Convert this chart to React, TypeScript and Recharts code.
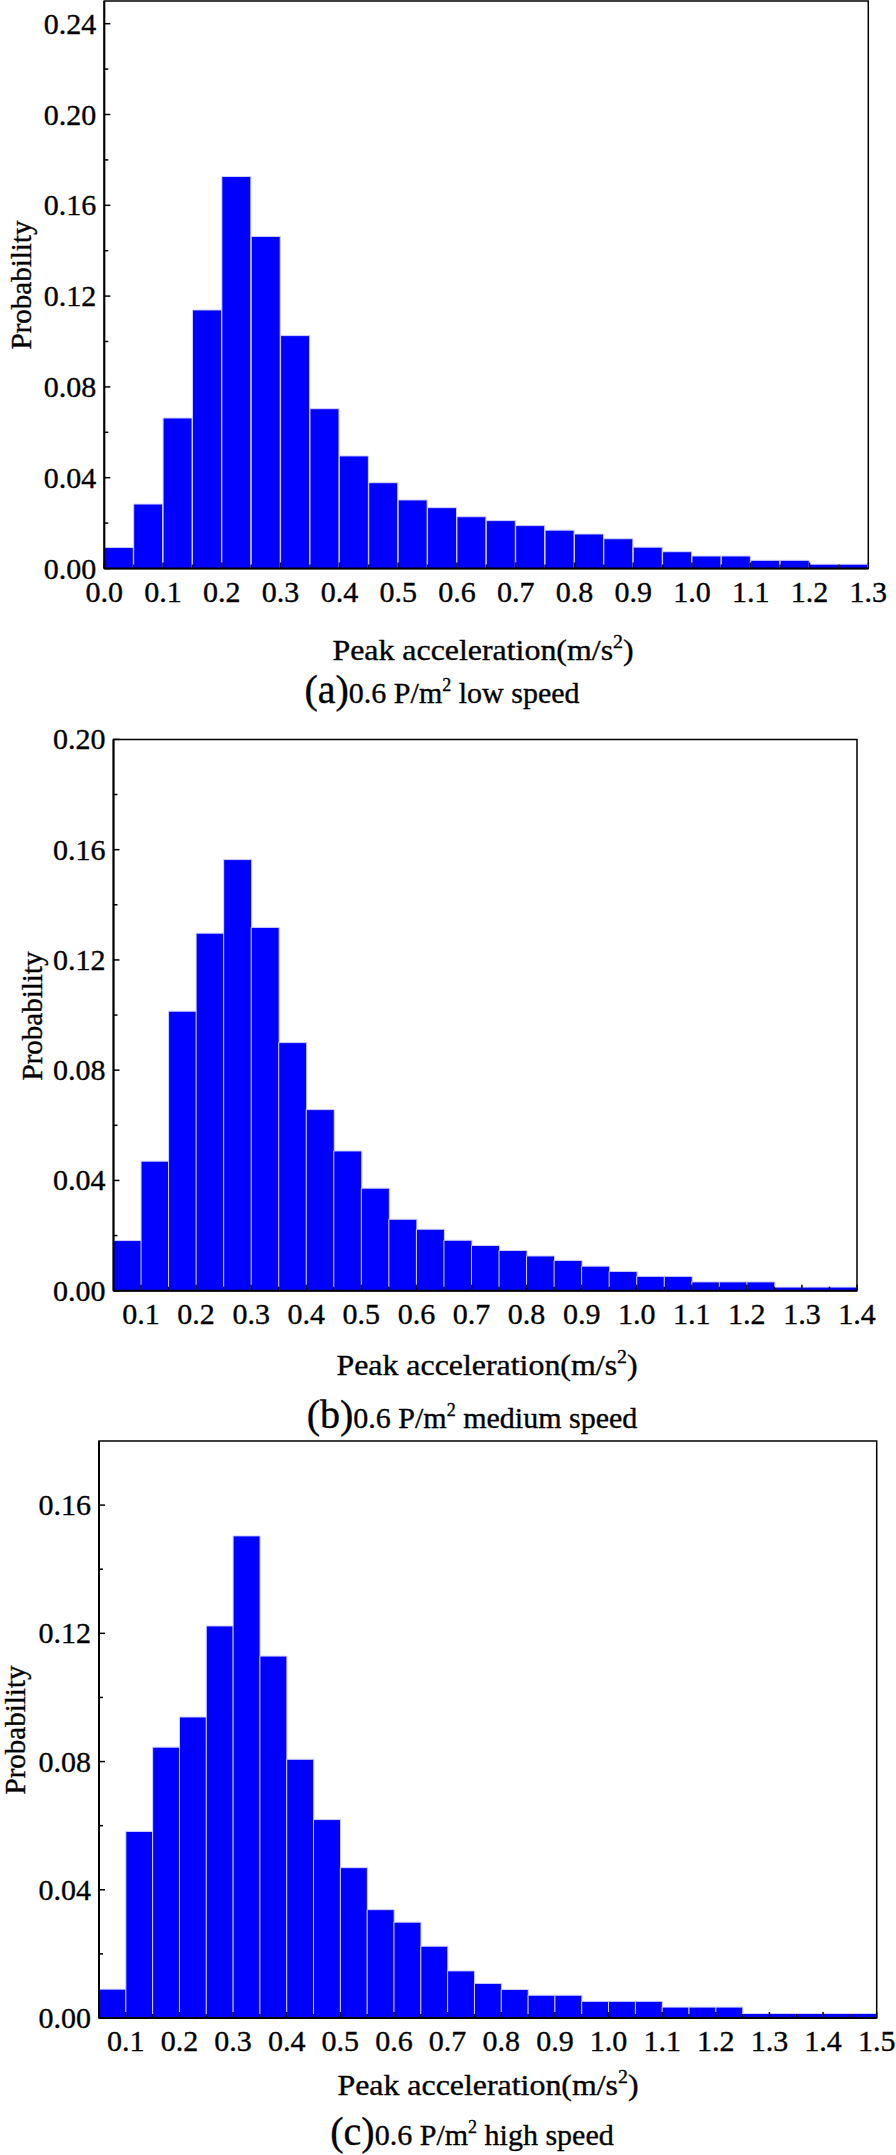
import React from 'react';
import { BarChart, Bar, XAxis, YAxis, ReferenceArea } from 'recharts';

const FONT = "'Liberation Serif', 'Times New Roman', serif";
// a thin outline on the glyphs so the text reads as dark as the scanned figure
const INK = { fill: '#000', stroke: '#000', strokeWidth: 0.35 };

// (a) 0.6 P/m2 low speed
const binsA = [
  0.025, 0.075, 0.125, 0.175, 0.225, 0.275, 0.325, 0.375, 0.425, 0.475, 0.525, 0.575, 0.625,
  0.675, 0.725, 0.775, 0.825, 0.875, 0.925, 0.975, 1.025, 1.075, 1.125, 1.175, 1.225, 1.275,
];
const probA = [
  0.0093, 0.0284, 0.0663, 0.1139, 0.1727, 0.1463, 0.1026, 0.0704, 0.0496, 0.0378, 0.0302, 0.0268,
  0.0228, 0.0211, 0.0189, 0.0169, 0.0152, 0.0131, 0.0094, 0.0074, 0.0055, 0.0055, 0.0036, 0.0036,
  0.0019, 0.0019,
];
const xMajorA = [0, 0.1, 0.2, 0.3, 0.4, 0.5, 0.6, 0.7, 0.8, 0.9, 1.0, 1.1, 1.2, 1.3];
const xMinorA = [0.05, 0.15, 0.25, 0.35, 0.45, 0.55, 0.65, 0.75, 0.85, 0.95, 1.05, 1.15, 1.25];
const yMajorA = [0, 0.04, 0.08, 0.12, 0.16, 0.2, 0.24];
const yMinorA = [0.02, 0.06, 0.1, 0.14, 0.18, 0.22];

// (b) 0.6 P/m2 medium speed
const binsB = [
  0.075, 0.125, 0.175, 0.225, 0.275, 0.325, 0.375, 0.425, 0.475, 0.525, 0.575, 0.625, 0.675,
  0.725, 0.775, 0.825, 0.875, 0.925, 0.975, 1.025, 1.075, 1.125, 1.175, 1.225, 1.275, 1.325, 1.375,
];
const probB = [
  0.0182, 0.047, 0.1014, 0.1297, 0.1564, 0.1318, 0.09, 0.0657, 0.0507, 0.0372, 0.0259, 0.0223,
  0.0183, 0.0164, 0.0146, 0.0126, 0.011, 0.0089, 0.007, 0.0052, 0.0052, 0.0032, 0.0032, 0.0032,
  0.0013, 0.0013, 0.0013,
];
const xMajorB = [0.1, 0.2, 0.3, 0.4, 0.5, 0.6, 0.7, 0.8, 0.9, 1.0, 1.1, 1.2, 1.3, 1.4];
const xMinorB = [0.15, 0.25, 0.35, 0.45, 0.55, 0.65, 0.75, 0.85, 0.95, 1.05, 1.15, 1.25, 1.35];
const yMajorB = [0, 0.04, 0.08, 0.12, 0.16, 0.2];
const yMinorB = [0.02, 0.06, 0.1, 0.14, 0.18];

// (c) 0.6 P/m2 high speed
const binsC = [
  0.075, 0.125, 0.175, 0.225, 0.275, 0.325, 0.375, 0.425, 0.475, 0.525, 0.575, 0.625, 0.675,
  0.725, 0.775, 0.825, 0.875, 0.925, 0.975, 1.025, 1.075, 1.125, 1.175, 1.225, 1.275, 1.325,
  1.375, 1.425, 1.475,
];
const probC = [
  0.009, 0.0582, 0.0845, 0.0939, 0.1223, 0.1504, 0.1129, 0.0807, 0.0619, 0.0469, 0.0338, 0.0299,
  0.0224, 0.0147, 0.0108, 0.0089, 0.0071, 0.0071, 0.0052, 0.0052, 0.0052, 0.0034, 0.0034, 0.0034,
  0.0014, 0.0014, 0.0014, 0.0014, 0.0014,
];
const xMajorC = [0.1, 0.2, 0.3, 0.4, 0.5, 0.6, 0.7, 0.8, 0.9, 1.0, 1.1, 1.2, 1.3, 1.4, 1.5];
const xMinorC = [0.15, 0.25, 0.35, 0.45, 0.55, 0.65, 0.75, 0.85, 0.95, 1.05, 1.15, 1.25, 1.35, 1.45];
const yMajorC = [0, 0.04, 0.08, 0.12, 0.16];
const yMinorC = [0.02, 0.06, 0.1, 0.14];

const inList = (list: number[], v: number) => list.some((t) => Math.abs(t - v) < 1e-9);
const merged = (a: number[], b: number[]) => [...a, ...b].sort((p, q) => p - q);

const Y_AXIS_W = 90;
const X_AXIS_H = 50;

function XTick(props: any) {
  const { x, y, payload, majors } = props;
  const major = inList(majors, payload.value);
  return (
    <g>
      <line x1={x} x2={x} y1={y} y2={y - (major ? 6 : 4)} stroke="#000" strokeWidth={1.5} />
      {major && (
        <text x={x} y={y + 33} textAnchor="middle" fontSize={30} fontFamily={FONT} {...INK}>
          {Number(payload.value).toFixed(1)}
        </text>
      )}
    </g>
  );
}

function YTick(props: any) {
  const { x, y, payload, majors } = props;
  const major = inList(majors, payload.value);
  return (
    <g>
      <line x1={x} x2={x + (major ? 6 : 4)} y1={y} y2={y} stroke="#000" strokeWidth={1.5} />
      {major && (
        <text x={x - 8} y={y + 10} textAnchor="end" fontSize={30} fontFamily={FONT} {...INK}>
          {Number(payload.value).toFixed(2)}
        </text>
      )}
    </g>
  );
}

type PanelProps = {
  bins: number[];
  probs: number[];
  xDomain: [number, number];
  yDomain: [number, number];
  xMajor: number[];
  xMinor: number[];
  yMajor: number[];
  yMinor: number[];
  top: number;
  height: number;
  // plot box edges, in page pixels relative to the panel top
  plot: { left: number; right: number; top: number; bottom: number };
};

function Histogram(p: PanelProps) {
  const data = p.bins.map((x, i) => ({ x, p: p.probs[i] }));
  const margin = {
    top: p.plot.top,
    left: p.plot.left - Y_AXIS_W,
    right: 896 - p.plot.right,
    bottom: p.height - p.plot.bottom - X_AXIS_H,
  };
  return (
    <div style={{ position: 'absolute', left: 0, top: p.top }}>
      <BarChart
        width={896}
        height={p.height}
        data={data}
        margin={margin}
        barCategoryGap={0}
        barGap={0}
      >
        <Bar
          dataKey="p"
          fill="#0000FF"
          stroke="#D2D2FF"
          strokeWidth={1}
          isAnimationActive={false}
        />
        <XAxis
          dataKey="x"
          type="number"
          scale="linear"
          domain={p.xDomain}
          allowDataOverflow
          ticks={merged(p.xMajor, p.xMinor)}
          interval={0}
          height={X_AXIS_H}
          tickSize={0}
          tickMargin={0}
          tickLine={false}
          axisLine={{ stroke: '#000', strokeWidth: 2 }}
          tick={(t: any) => <XTick {...t} majors={p.xMajor} />}
        />
        <YAxis
          type="number"
          domain={p.yDomain}
          allowDataOverflow
          ticks={merged(p.yMajor, p.yMinor)}
          interval={0}
          width={Y_AXIS_W}
          tickSize={0}
          tickMargin={0}
          tickLine={false}
          axisLine={{ stroke: '#000', strokeWidth: 2 }}
          tick={(t: any) => <YTick {...t} majors={p.yMajor} />}
        />
        <ReferenceArea
          x1={p.xDomain[0]}
          x2={p.xDomain[1]}
          y1={p.yDomain[0]}
          y2={p.yDomain[1]}
          fill="none"
          fillOpacity={0}
          stroke="#000"
          strokeWidth={1.5}
          ifOverflow="visible"
        />
      </BarChart>
    </div>
  );
}

function YTitle({ cx, cy }: { cx: number; cy: number }) {
  return (
    <text
      transform={`translate(${cx} ${cy}) rotate(-90)`}
      textAnchor="middle"
      dominantBaseline="central"
      fontSize={29}
      fontFamily={FONT}
      {...INK}
    >
      Probability
    </text>
  );
}

function XTitle({ cx, y }: { cx: number; y: number }) {
  return (
    <text
      x={cx}
      y={y}
      textAnchor="middle"
      fontSize={29}
      fontFamily={FONT}
      {...INK}
      transform={`translate(${cx} 0) scale(1.1 1) translate(${-cx} 0)`}
    >
      Peak acceleration(m/s
      <tspan dy={-12} fontSize={18}>2</tspan>
      <tspan dy={12}>)</tspan>
    </text>
  );
}

function Caption({ cx, y, tag, speed }: { cx: number; y: number; tag: string; speed: string }) {
  return (
    <text x={cx} y={y} textAnchor="middle" fontFamily={FONT} fontSize={30} {...INK}>
      <tspan fontSize={40}>{tag}</tspan>
      <tspan>0.6 P/m</tspan>
      <tspan dy={-12} fontSize={18}>2</tspan>
      <tspan dy={12}>{` ${speed}`}</tspan>
    </text>
  );
}

export default function App() {
  return (
    <div
      style={{
        position: 'absolute',
        left: 0,
        top: 0,
        width: 896,
        height: 2155,
        background: '#fff',
        overflow: 'hidden',
      }}
    >
      <Histogram
        bins={binsA}
        probs={probA}
        xDomain={[0, 1.3]}
        yDomain={[0, 0.25]}
        xMajor={xMajorA}
        xMinor={xMinorA}
        yMajor={yMajorA}
        yMinor={yMinorA}
        top={0}
        height={640}
        plot={{ left: 104.3, right: 868.3, top: 1, bottom: 568.5 }}
      />
      <Histogram
        bins={binsB}
        probs={probB}
        xDomain={[0.05, 1.4]}
        yDomain={[0, 0.2]}
        xMajor={xMajorB}
        xMinor={xMinorB}
        yMajor={yMajorB}
        yMinor={yMinorB}
        top={700}
        height={660}
        plot={{ left: 113.5, right: 857, top: 39.4, bottom: 590.7 }}
      />
      <Histogram
        bins={binsC}
        probs={probC}
        xDomain={[0.05, 1.5]}
        yDomain={[0, 0.18]}
        xMajor={xMajorC}
        xMinor={xMinorC}
        yMajor={yMajorC}
        yMinor={yMinorC}
        top={1420}
        height={690}
        plot={{ left: 99, right: 876.7, top: 21, bottom: 598 }}
      />
      <svg
        width={896}
        height={2155}
        style={{ position: 'absolute', left: 0, top: 0, pointerEvents: 'none' }}
      >
        <YTitle cx={21} cy={285} />
        <YTitle cx={32} cy={1016} />
        <YTitle cx={15} cy={1730} />
        <XTitle cx={483} y={660} />
        <XTitle cx={487} y={1375} />
        <XTitle cx={488} y={2095} />
        <Caption cx={442} y={703} tag="(a)" speed="low speed" />
        <Caption cx={472} y={1428} tag="(b)" speed="medium speed" />
        <Caption cx={472} y={2145} tag="(c)" speed="high speed" />
      </svg>
    </div>
  );
}
